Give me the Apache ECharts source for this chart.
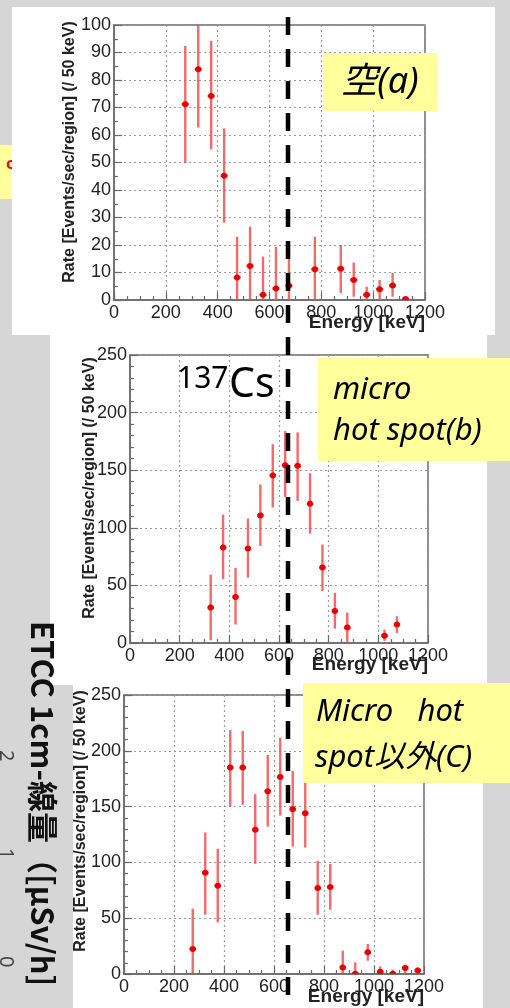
<!DOCTYPE html>
<html>
<head>
<meta charset="utf-8">
<script src="https://cdn.jsdelivr.net/npm/echarts@6/dist/echarts.min.js"></script>
<style>
  html, body { margin: 0; padding: 0; background: #d6d6d6; }
  #chart { width: 510px; height: 1008px; }
</style>
</head>
<body>
<div id="chart"></div>
<script>
// Bin centres (keV), measured rates and the lower/upper ends of each error bar.
const energyA = [275, 325, 375, 425, 475, 525, 575, 625, 675, 775, 875, 925, 975, 1025, 1075, 1125];
const rateA   = [71.2, 83.9, 74.2, 45.2, 8.2, 12.4, 1.9, 4.2, 5.2, 11.2, 11.4, 7.3, 1.9, 3.9, 5.3, 0.4];
const lowA    = [49.9, 62.7, 54.8, 28.1, 0, 0, 0, 0, 0, 0, 2.5, 1.2, 0, 0, 1.2, 0];
const highA   = [92.4, 104, 94.2, 62.4, 23, 26.7, 15.8, 19.3, 21, 23, 20, 13.6, 4.8, 7.3, 9.8, 0.9];

const energyB = [325, 375, 425, 475, 525, 575, 625, 675, 725, 775, 825, 875, 1025, 1075];
const rateB   = [30.8, 82.9, 40, 82, 110.7, 145.4, 154.4, 153.8, 120.8, 65.5, 27.8, 13.4, 6.4, 16];
const lowB    = [2.3, 55.3, 16, 56.8, 84.3, 117.6, 126.8, 123.4, 95, 45.2, 12.5, 0.9, 1.9, 8.7];
const highB   = [59.4, 111.5, 65.2, 108, 137.6, 172.6, 183.9, 182.8, 147.4, 85.5, 43.4, 26.4, 11.6, 23.2];

const energyC = [275, 325, 375, 425, 475, 525, 575, 625, 675, 725, 775, 825, 875, 925, 975, 1025, 1075, 1125, 1175];
const rateC   = [22.4, 90.7, 79, 185, 185, 129.2, 163.8, 176.6, 147.7, 144.1, 77, 77.9, 5.9, 0.3, 19.4, 2, 0.3, 5.4, 3.2];
const lowC    = [0, 53.1, 46.2, 150, 151.6, 98.7, 132.1, 142, 114.2, 113.3, 53.1, 57.6, 0, 0, 11.9, 0, 0, 0.5, 0.5];
const highC   = [58.5, 126.8, 112.2, 218.7, 217.8, 161.1, 196.3, 211.8, 182, 176, 101.4, 98.7, 20.9, 10.4, 26.9, 6.8, 3.8, 8.3, 5.9];

const energyRange = [0, 1200];
const energyStep = 200;
const rateMaxA = 100, rateStepA = 10;
const rateMaxBC = 250, rateStepBC = 50;
const halfBin = 25;          // bins are 50 keV wide
const cs137Line = 662;       // Cs-137 gamma line (keV)

const xTitle = 'Energy [keV]';
const yTitle = 'Rate [Events/sec/region] (/ 50 keV)';

const chart = echarts.init(document.getElementById('chart'), null, { renderer: 'canvas' });

const frameColor = '#6a6a6a';
const labelColor = '#222';
const labelFont = '"Liberation Sans", Arial, sans-serif';

function makeXAxis(gridIndex) {
  return {
    type: 'value', gridIndex,
    min: energyRange[0], max: energyRange[1], interval: energyStep,
    axisLine: { show: true, onZero: false, lineStyle: { color: frameColor, width: 1.5 } },
    axisTick: { show: true, inside: true, length: 8, lineStyle: { color: frameColor, width: 1.2 } },
    minorTick: { show: true, splitNumber: 4, length: 4, lineStyle: { color: frameColor, width: 1.2 } },
    splitLine: { show: true, lineStyle: { color: '#9a9a9a', type: [2, 3], width: 1.2 } },
    axisLabel: { color: labelColor, fontFamily: labelFont, fontSize: 18, margin: 4,
                 showMinLabel: true, showMaxLabel: true, hideOverlap: false,
                 formatter: v => String(v) }
  };
}

function makeYAxis(gridIndex, max, step, minorSplit) {
  return {
    type: 'value', gridIndex, min: 0, max, interval: step,
    axisLine: { show: true, onZero: false, lineStyle: { color: frameColor, width: 1.5 } },
    axisTick: { show: true, inside: true, length: 8, lineStyle: { color: frameColor, width: 1.2 } },
    minorTick: { show: true, splitNumber: minorSplit, length: 4, lineStyle: { color: frameColor, width: 1.2 } },
    splitLine: { show: true, lineStyle: { color: '#9a9a9a', type: [2, 3], width: 1.2 } },
    axisLabel: { color: labelColor, fontFamily: labelFont, fontSize: 18, margin: 3,
                 showMinLabel: true, showMaxLabel: true, formatter: v => String(v) }
  };
}

// Error-bar point: vertical uncertainty, horizontal bin width and a dot at the rate.
function renderErrorPoint(params, api) {
  const e = api.value(0), r = api.value(1), lo = api.value(2), hi = api.value(3);
  const pLo = api.coord([e, lo]);
  const pHi = api.coord([e, hi]);
  const pC = api.coord([e, r]);
  const pL = api.coord([e - halfBin, r]);
  const pR = api.coord([e + halfBin, r]);
  return {
    type: 'group',
    children: [
      { type: 'line', shape: { x1: pLo[0], y1: pLo[1], x2: pHi[0], y2: pHi[1] },
        style: { stroke: 'rgba(236, 70, 70, 0.8)', lineWidth: 2.4 } },
      { type: 'line', shape: { x1: pL[0] + 3, y1: pC[1], x2: pR[0] - 3, y2: pC[1] },
        style: { stroke: '#f01414', lineWidth: 2.6 } },
      { type: 'circle', shape: { cx: pC[0], cy: pC[1], r: 3 }, style: { fill: '#e80000' } }
    ]
  };
}

function pointsOf(energy, rate, low, high) {
  return energy.map((e, i) => [e, rate[i], low[i], high[i]]);
}

function errorSeries(idx, energy, rate, low, high) {
  return {
    type: 'custom', xAxisIndex: idx, yAxisIndex: idx, clip: true,
    renderItem: renderErrorPoint,
    encode: { x: 0, y: [1, 2, 3] },
    data: pointsOf(energy, rate, low, high),
    z: 5
  };
}

// Cs-137 marker line, drawn down through all panels at the bottom panel's energy scale.
function markerLine() {
  return {
    type: 'custom', xAxisIndex: 2, yAxisIndex: 2, clip: false, z: 50,
    data: [[cs137Line]],
    renderItem: function (params, api) {
      const p = api.coord([api.value(0), 0]);
      return {
        type: 'line',
        shape: { x1: p[0] - 1.5, y1: 17, x2: p[0] - 1.5, y2: 1008 },
        style: { stroke: '#000', lineWidth: 4.5, lineDash: [18, 14] }
      };
    }
  };
}

const yellow = '#ffff9c';
const boxFont = '"Noto Sans", "Noto Sans CJK JP", sans-serif';
const titleFontY = 'bold 16px ' + labelFont;
const titleFontX = 'bold 19px ' + labelFont;

function yTitleText(cx, cy) {
  return { type: 'text', z: 20, x: cx, y: cy, rotation: Math.PI / 2,
           style: { text: yTitle, fill: labelColor, font: titleFontY, textAlign: 'center', textVerticalAlign: 'middle' } };
}
function xTitleText(right, cy) {
  return { type: 'text', z: 20, x: right, y: cy,
           style: { text: xTitle, fill: labelColor, font: titleFontX, textAlign: 'right', textVerticalAlign: 'middle' } };
}

const option = {
  backgroundColor: '#d6d6d6',
  animation: false,
  grid: [
    { left: 114, top: 25, width: 311, height: 275, show: true, borderColor: frameColor, borderWidth: 1.5, backgroundColor: 'transparent' },
    { left: 130, top: 355, width: 298, height: 288, show: true, borderColor: frameColor, borderWidth: 1.5, backgroundColor: 'transparent' },
    { left: 124, top: 695, width: 300, height: 279, show: true, borderColor: frameColor, borderWidth: 1.5, backgroundColor: 'transparent' }
  ],
  xAxis: [makeXAxis(0), makeXAxis(1), makeXAxis(2)],
  yAxis: [
    makeYAxis(0, rateMaxA, rateStepA, 2),
    makeYAxis(1, rateMaxBC, rateStepBC, 5),
    makeYAxis(2, rateMaxBC, rateStepBC, 5)
  ],
  series: [
    errorSeries(0, energyA, rateA, lowA, highA),
    errorSeries(1, energyB, rateB, lowB, highB),
    errorSeries(2, energyC, rateC, lowC, highC),
    markerLine()
  ],
  graphic: [
    // slide pieces behind the plots
    { type: 'rect', z: -120, shape: { x: 0, y: 145, width: 14, height: 54 }, style: { fill: yellow } },
    { type: 'text', z: -119, x: 6, y: 156, style: { text: 'c', fill: '#d81010', font: 'bold 16px "Noto Sans"' } },
    { type: 'rect', z: -100, shape: { x: 12, y: 7, width: 483, height: 328 }, style: { fill: '#ffffff' } },
    { type: 'rect', z: -100, shape: { x: 50, y: 335, width: 437, height: 350 }, style: { fill: '#ffffff' } },
    { type: 'rect', z: -100, shape: { x: 73, y: 685, width: 410, height: 323 }, style: { fill: '#ffffff' } },

    // axis titles
    yTitleText(70, 152), yTitleText(90, 488), yTitleText(81, 821),
    xTitleText(425, 323), xTitleText(428, 665), xTitleText(424, 997),

    // vertical dose-rate title and clipped digits on the left
    { type: 'text', z: 20, x: 43, y: 621, rotation: -Math.PI / 2,
      style: { text: 'ETCC 1cm-線量（[μSv/h]', fill: '#111', font: 'bold 31px "Noto Sans CJK JP"',
               textAlign: 'left', textVerticalAlign: 'middle' } },
    { type: 'text', z: 20, x: -4, y: 750, rotation: -Math.PI / 2,
      style: { text: '2', fill: '#444', font: '20px "Noto Sans"', textAlign: 'left', textVerticalAlign: 'bottom' } },
    { type: 'text', z: 20, x: -4, y: 848, rotation: -Math.PI / 2,
      style: { text: '1', fill: '#444', font: '20px "Noto Sans"', textAlign: 'left', textVerticalAlign: 'bottom' } },
    { type: 'text', z: 20, x: -4, y: 956, rotation: -Math.PI / 2,
      style: { text: '0', fill: '#444', font: '20px "Noto Sans"', textAlign: 'left', textVerticalAlign: 'bottom' } },

    // panel labels
    { type: 'rect', z: 30, shape: { x: 323, y: 53, width: 114, height: 58 }, style: { fill: yellow } },
    { type: 'text', z: 31, x: 380, y: 83,
      style: { text: '空(a)', fill: '#000', font: 'italic 36px ' + boxFont, textAlign: 'center', textVerticalAlign: 'middle' } },

    { type: 'text', z: 31, x: 177, y: 364,
      style: { text: '137', fill: '#000', font: '30px "Noto Sans"', textAlign: 'left', textVerticalAlign: 'top' } },
    { type: 'text', z: 31, x: 229, y: 365,
      style: { text: 'Cs', fill: '#000', font: '41px "Noto Sans"', textAlign: 'left', textVerticalAlign: 'top' } },

    { type: 'rect', z: 30, shape: { x: 318, y: 358, width: 192, height: 103 }, style: { fill: yellow } },
    { type: 'text', z: 31, x: 333, y: 390,
      style: { text: 'micro', fill: '#000', font: 'italic 31px ' + boxFont, textAlign: 'left', textVerticalAlign: 'middle' } },
    { type: 'text', z: 31, x: 333, y: 431,
      style: { text: 'hot spot(b)', fill: '#000', font: 'italic 31px ' + boxFont, textAlign: 'left', textVerticalAlign: 'middle' } },

    { type: 'rect', z: 30, shape: { x: 303, y: 683, width: 207, height: 100 }, style: { fill: yellow } },
    { type: 'text', z: 31, x: 316, y: 712,
      style: { text: 'Micro   hot', fill: '#000', font: 'italic 31px ' + boxFont, textAlign: 'left', textVerticalAlign: 'middle' } },
    { type: 'text', z: 31, x: 315, y: 758,
      style: { text: 'spot以外(C)', fill: '#000', font: 'italic 31px ' + boxFont, textAlign: 'left', textVerticalAlign: 'middle' } }
  ]
};

chart.setOption(option);
</script>
</body>
</html>
